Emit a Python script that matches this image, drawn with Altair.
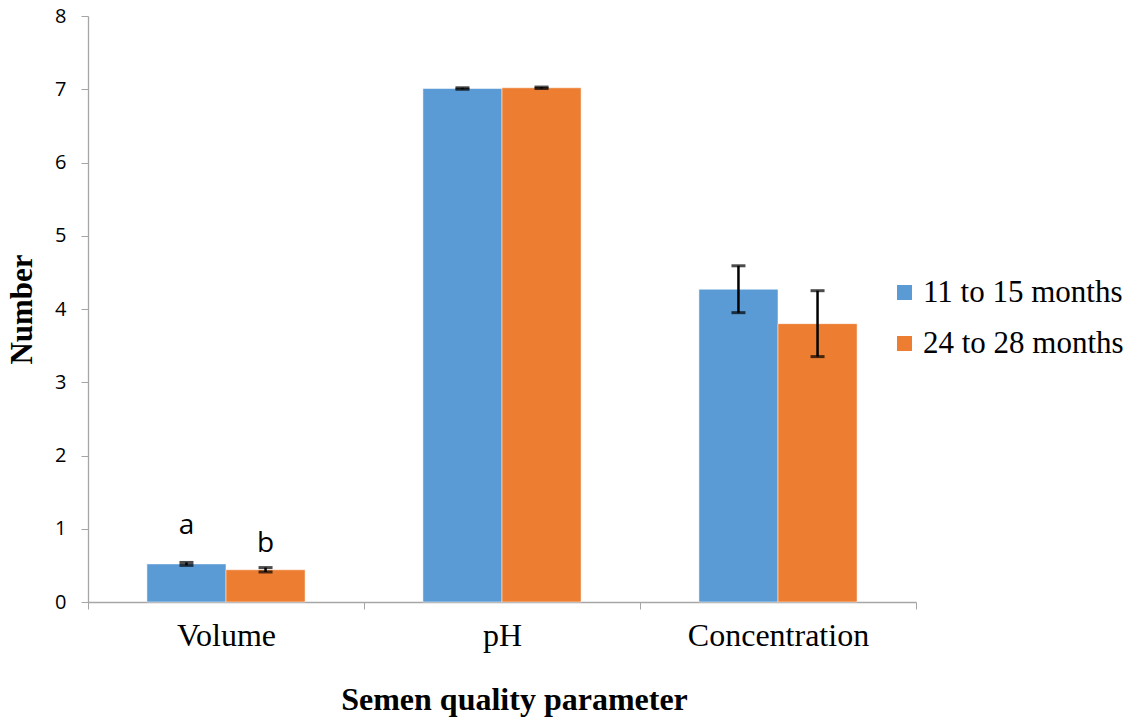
import altair as alt
import pandas as pd

categories = ["Volume", "pH", "Concentration"]
groups = ["11 to 15 months", "24 to 28 months"]
mean_young = [0.52, 7.01, 4.27]
mean_old = [0.44, 7.02, 3.80]
err_young = [0.02, 0.01, 0.32]
err_old = [0.03, 0.01, 0.45]
letters_young = ["a", "", ""]
letters_old = ["b", "", ""]
colors = ["#5B9BD5", "#ED7D31"]

rows = []
for i, c in enumerate(categories):
    rows.append(dict(cat=c, grp=groups[0], mean=mean_young[i], err=err_young[i], letter=letters_young[i]))
    rows.append(dict(cat=c, grp=groups[1], mean=mean_old[i], err=err_old[i], letter=letters_old[i]))
df = pd.DataFrame(rows)
df["lo"] = df["mean"] - df["err"]
df["hi"] = df["mean"] + df["err"]

serif = "Liberation Serif, Times New Roman, serif"
sans = "Open Sans"

x = alt.X("cat:N", sort=categories, title="Semen quality parameter",
          scale=alt.Scale(paddingInner=0, paddingOuter=0),
          axis=alt.Axis(labelAngle=0, labelFont=serif, labelFontSize=32, labelColor="black",
                        labelLimit=0,
                        titleFont=serif, titleFontSize=32, titleFontWeight="bold", titleColor="black",
                        labelPadding=11, titlePadding=33, tickBand="extent", tickSize=7,
                        titleX=426, titleAlign="center",
                        domainColor="#A6A6A6", tickColor="#A6A6A6", domainWidth=1.3))
xo = alt.XOffset("grp:N", sort=groups, scale=alt.Scale(paddingInner=0, paddingOuter=0.745))
y_scale = alt.Scale(domain=[0, 8], nice=False)

base = alt.Chart(df)

bars = base.mark_bar(stroke="white", strokeWidth=0.5).encode(
    x=x, xOffset=xo,
    y=alt.Y("mean:Q", scale=y_scale, title="Number",
            axis=alt.Axis(values=list(range(0, 9)), format="d", grid=False, labelFont=sans,
                          labelFontSize=20, labelColor="black", titleFont=serif, titleFontSize=31,
                          titleFontWeight="bold", titleColor="black", titlePadding=16,
                          labelPadding=15, tickSize=7,
                          domainColor="#A6A6A6", tickColor="#A6A6A6", domainWidth=1.3)),
    color=alt.Color("grp:N", sort=groups, scale=alt.Scale(domain=groups, range=colors),
                    legend=alt.Legend(title=None, orient="none", legendX=801, legendY=261,
                                      symbolType="square", symbolSize=225, symbolStrokeWidth=0,
                                      labelFont=serif, labelFontSize=31, labelColor="black",
                                      labelLimit=0, rowPadding=19, labelOffset=3)),
)

rules = base.mark_rule(color="black", strokeWidth=2.5).encode(
    x=x, xOffset=xo, y="lo:Q", y2="hi:Q")
caps_hi = base.mark_tick(color="black", thickness=3, size=14).encode(x=x, xOffset=xo, y="hi:Q")
caps_lo = base.mark_tick(color="black", thickness=3, size=14).encode(x=x, xOffset=xo, y="lo:Q")

txt_a = base.transform_filter(alt.datum.grp == groups[0]).mark_text(
    font=sans, fontSize=28, baseline="bottom", dy=-22, color="black").encode(
    x=x, xOffset=xo, y="hi:Q", text="letter:N")
txt_b = base.transform_filter(alt.datum.grp == groups[1]).mark_text(
    font=sans, fontSize=28, baseline="bottom", dy=-10, color="black").encode(
    x=x, xOffset=xo, y="hi:Q", text="letter:N")

chart = alt.layer(bars, rules, caps_hi, caps_lo, txt_a, txt_b).properties(
    width=828, height=586,
    autosize=alt.AutoSizeParams(type="none"),
    padding={"left": 88, "top": 16, "right": 215, "bottom": 119},
    background="white",
).configure(font=serif).configure_view(stroke=None).configure_legend(labelFont=serif)

chart.save("out.html", embed_options={"renderer": "svg", "actions": False})
